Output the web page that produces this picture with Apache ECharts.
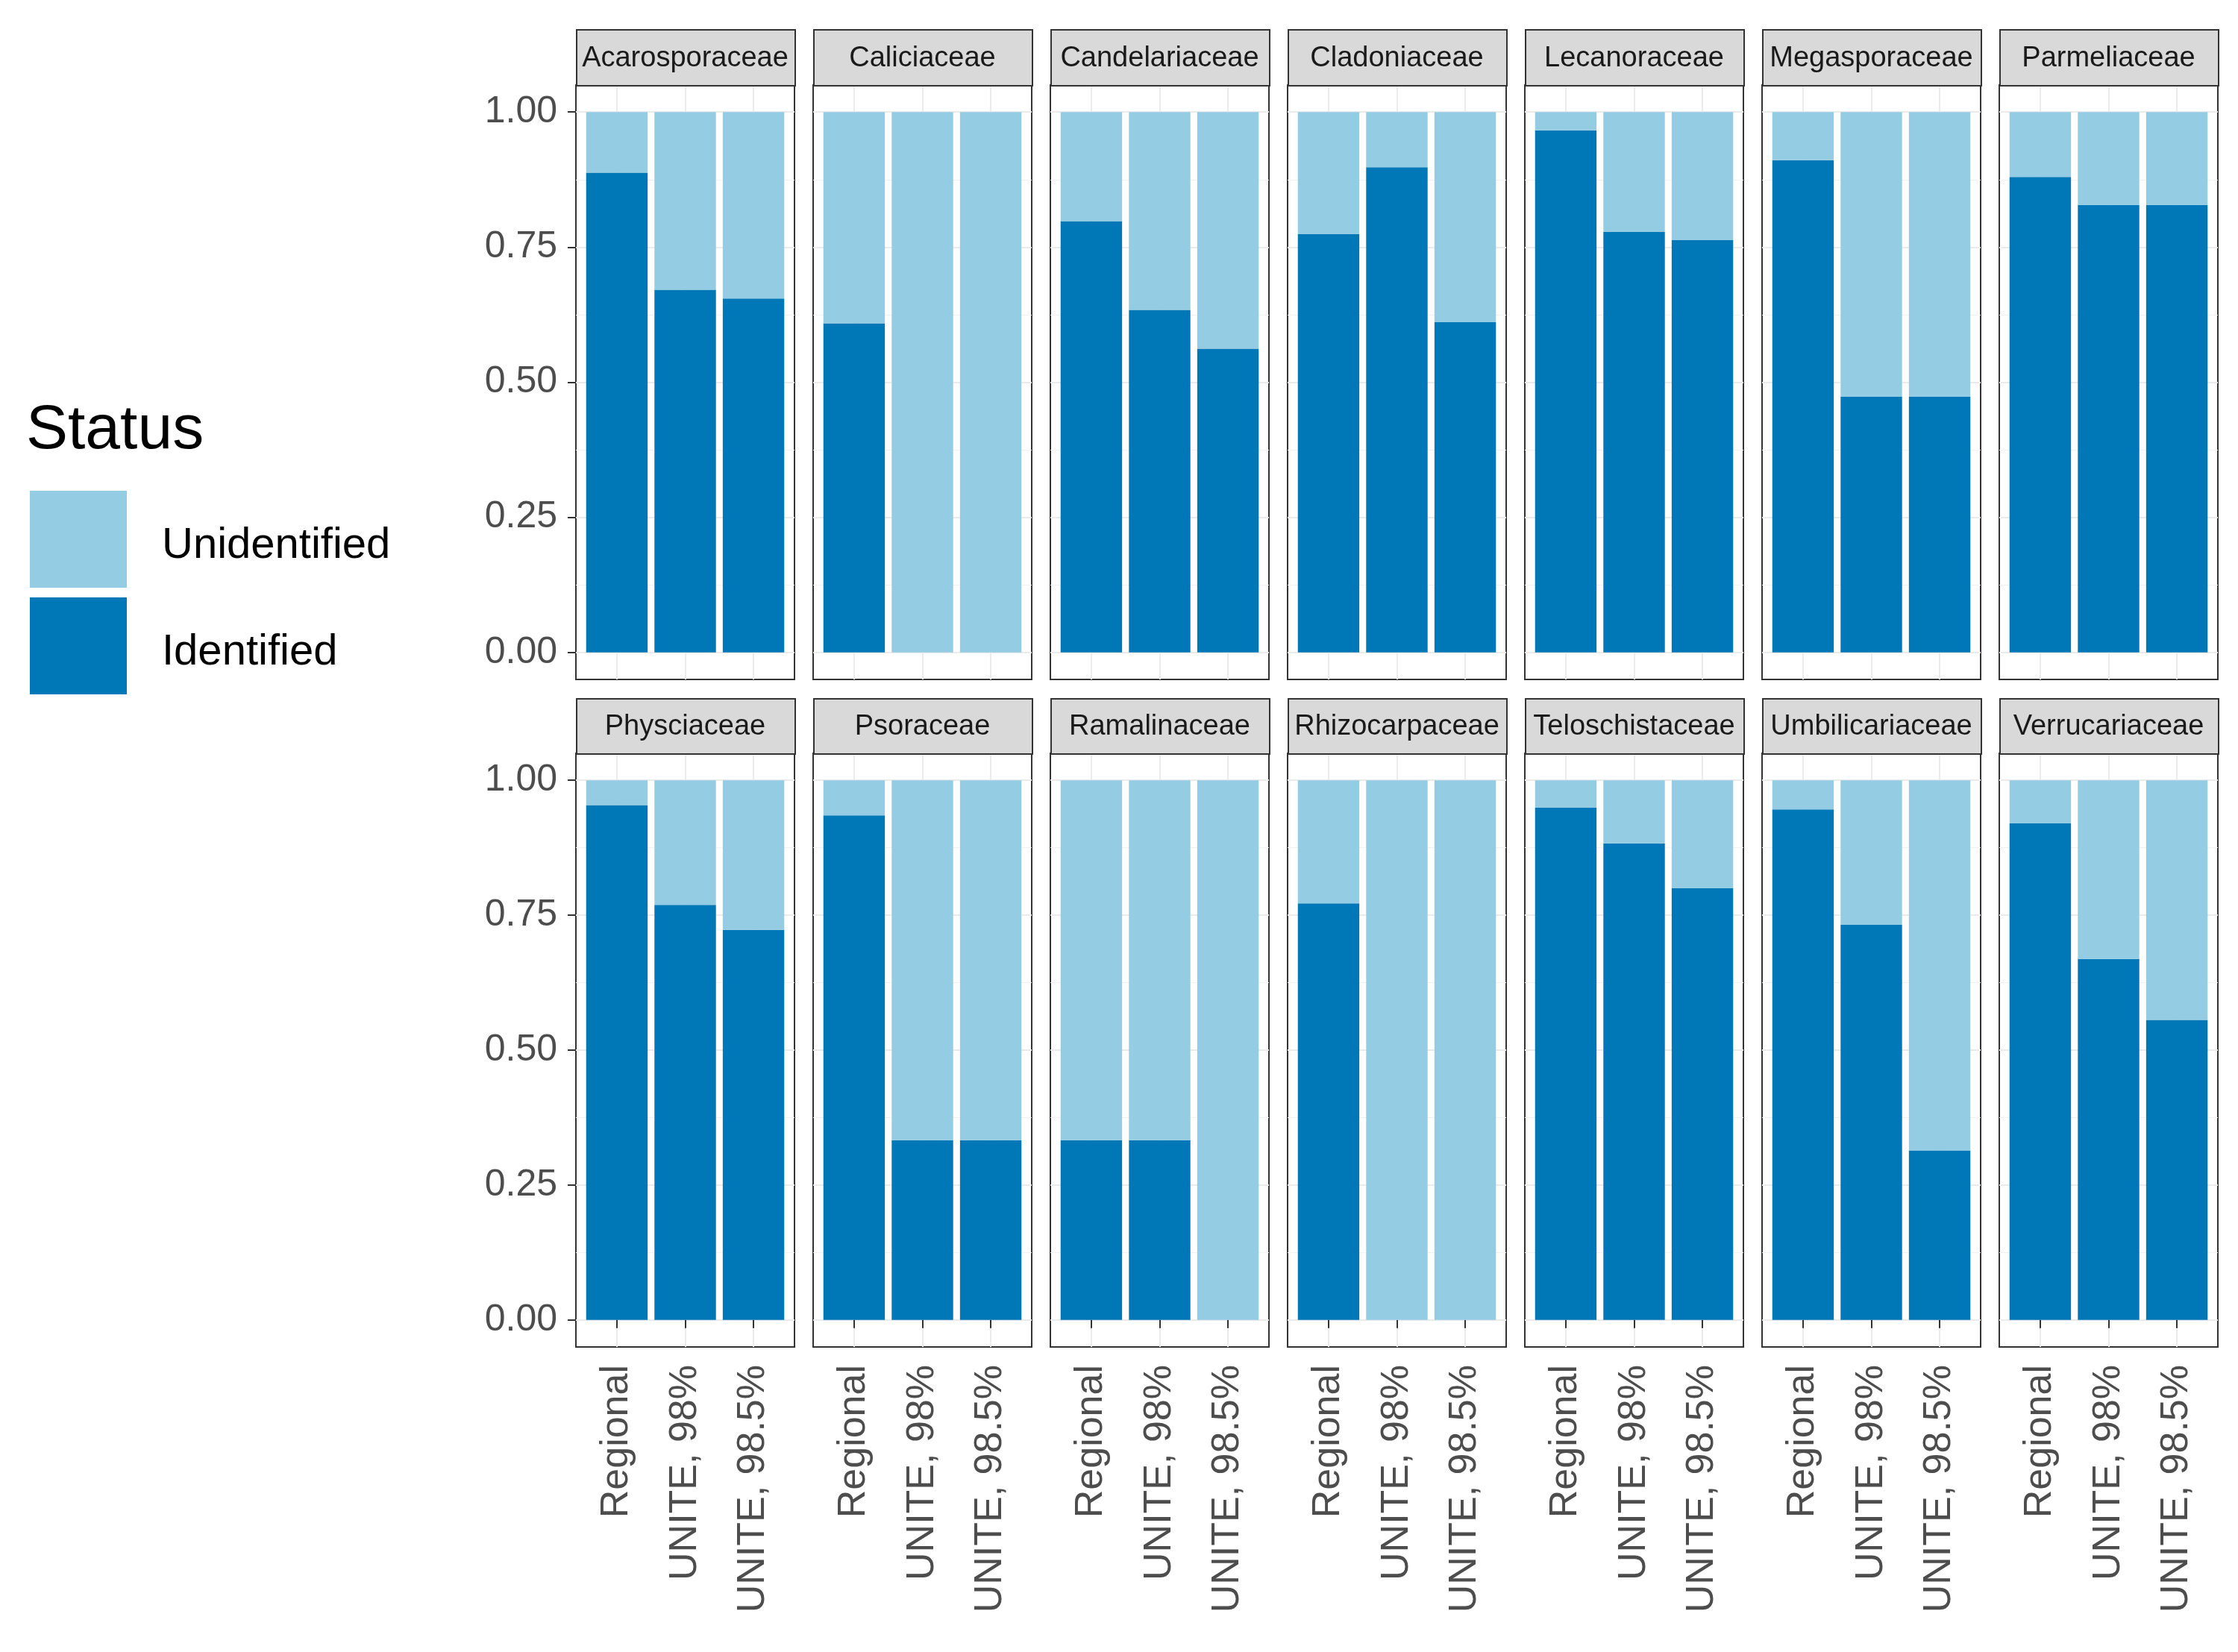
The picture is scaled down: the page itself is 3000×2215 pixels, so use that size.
<!DOCTYPE html>
<html>
<head>
<meta charset="utf-8">
<script src="https://cdn.jsdelivr.net/npm/echarts@6/dist/echarts.min.js"></script>
<style>
html,body{margin:0;padding:0;background:#fff;}
#chart{width:3000px;height:2215px;}
</style>
</head>
<body>
<div id="chart"></div>
<script>
// ---- data ----
const families = ['Acarosporaceae','Caliciaceae','Candelariaceae','Cladoniaceae','Lecanoraceae','Megasporaceae','Parmeliaceae',
                  'Physciaceae','Psoraceae','Ramalinaceae','Rhizocarpaceae','Teloschistaceae','Umbilicariaceae','Verrucariaceae'];
const methods = ['Regional', 'UNITE, 98%', 'UNITE, 98.5%'];
// proportion of identified reads per family, for each method
const idRegional = [0.888, 0.609, 0.798, 0.774, 0.966, 0.911, 0.880, 0.954, 0.935, 0.333, 0.772, 0.949, 0.946, 0.920];
const idUnite98  = [0.671, 0.000, 0.634, 0.898, 0.778, 0.473, 0.828, 0.769, 0.333, 0.333, 0.000, 0.883, 0.732, 0.669];
const idUnite985 = [0.655, 0.000, 0.562, 0.611, 0.763, 0.473, 0.828, 0.723, 0.333, 0.000, 0.000, 0.800, 0.314, 0.556];
const yTicks = [0, 0.25, 0.5, 0.75, 1];
const yMinor = [0.125, 0.375, 0.625, 0.875];
const statusNames = ['Unidentified', 'Identified'];

// ---- styling / layout ----
const COL_ID = '#0077B6';
const COL_UN = '#94CDE3';
const FONT = 'Liberation Sans, Arial, Helvetica, sans-serif';
const panelLeft0 = 772, panelW = 293, panelStep = 318;
const rows = [
  {stripTop: 39, plotTop: 114, plotBottom: 911},
  {stripTop: 936, plotTop: 1010, plotBottom: 1806}
];
const unit = panelW / 3.2;           // ggplot discrete expansion: 0.6 units each side
const inset = unit * 0.1;            // category band layout vs ggplot panel

const grids = [], xAxes = [], yAxes = [], series = [], graphics = [];
const idByMethod = [idRegional, idUnite98, idUnite985];

families.forEach((fam, i) => {
  const r = Math.floor(i / 7), c = i % 7;
  const row = rows[r];
  const left = panelLeft0 + c * panelStep;
  const h = row.plotBottom - row.plotTop;
  const showX = r === 1, showY = c === 0;

  // decoration grid (panel, gridlines, ticks, labels)
  const gDeco = grids.length;
  grids.push({left: left, top: row.plotTop, width: panelW, height: h,
    show: true, borderColor: '#333333', borderWidth: 2, backgroundColor: '#ffffff', containLabel: false});
  xAxes.push({
    gridIndex: gDeco, type: 'value', min: 0.4, max: 3.6,
    axisLine: {show: false},
    axisTick: {show: showX, customValues: [1, 2, 3], length: 11, lineStyle: {color: '#333333', width: 2}},
    axisLabel: {show: showX, customValues: [1, 2, 3], rotate: 90, margin: 24,
      formatter: v => methods[Math.round(v) - 1] || '',
      fontSize: 52, color: '#4D4D4D', fontFamily: FONT, hideOverlap: false},
    splitLine: {show: true, lineStyle: {color: '#EBEBEB', width: 2}}
  });
  yAxes.push({
    gridIndex: gDeco, type: 'value', min: -0.05, max: 1.05,
    axisLine: {show: false},
    axisTick: {show: showY, customValues: yTicks, length: 11, lineStyle: {color: '#333333', width: 2}},
    axisLabel: {show: showY, customValues: yTicks, margin: 25, formatter: v => v.toFixed(2),
      fontSize: 50, color: '#4D4D4D', fontFamily: FONT},
    splitLine: {show: true, lineStyle: {color: '#EBEBEB', width: 2}}
  });
  const gMinor = grids.length;
  grids.push({left: left, top: row.plotTop, width: panelW, height: h, show: false, containLabel: false});
  xAxes.push({gridIndex: gMinor, type: 'value', min: 0.4, max: 3.6, show: false});
  yAxes.push({
    gridIndex: gMinor, type: 'value', min: -0.05, max: 1.05,
    axisLine: {show: false},
    axisTick: {show: false, customValues: yMinor},
    axisLabel: {show: false, customValues: yMinor},
    splitLine: {show: true, lineStyle: {color: '#F1F1F1', width: 1}}
  });

  // bar grid (category axis, stacked bars)
  const gBar = grids.length;
  grids.push({left: left + inset, top: row.plotTop, width: panelW - 2 * inset, height: h, show: false, containLabel: false});
  xAxes.push({gridIndex: gBar, type: 'category', data: methods, boundaryGap: true,
    axisLine: {show: false}, axisTick: {show: false}, axisLabel: {show: false}, splitLine: {show: false}});
  yAxes.push({gridIndex: gBar, type: 'value', min: -0.05, max: 1.05,
    axisLine: {show: false}, axisTick: {show: false}, axisLabel: {show: false}, splitLine: {show: false}});
  const ax = xAxes.length - 1, ay = yAxes.length - 1;

  series.push({
    name: 'Identified', type: 'bar', xAxisIndex: ax, yAxisIndex: ay, stack: 's' + i,
    barWidth: '90%', itemStyle: {color: COL_ID}, silent: true,
    data: methods.map((m, k) => idByMethod[k][i])
  });
  series.push({
    name: 'Unidentified', type: 'bar', xAxisIndex: ax, yAxisIndex: ay, stack: 's' + i,
    barWidth: '90%', itemStyle: {color: COL_UN}, silent: true,
    data: methods.map((m, k) => +(1 - idByMethod[k][i]).toFixed(3))
  });

  // facet strip
  graphics.push({
    type: 'rect', left: left, top: row.stripTop, z: 10,
    shape: {width: panelW, height: row.plotTop - row.stripTop},
    style: {fill: '#D9D9D9', stroke: '#333333', lineWidth: 2}
  });
  graphics.push({
    type: 'text', x: left + panelW / 2, y: (row.stripTop + row.plotTop) / 2 + 2, z: 11,
    style: {text: fam, fontSize: 38, fontFamily: FONT, fill: '#1A1A1A', align: 'center', verticalAlign: 'middle'}
  });
});

graphics.push({
  type: 'text', x: 35, y: 578, z: 11,
  style: {text: 'Status', fontSize: 84, fontFamily: FONT, fill: '#000000', align: 'left', verticalAlign: 'middle'}
});

const chart = echarts.init(document.getElementById('chart'), null, {renderer: 'canvas'});
chart.setOption({
  backgroundColor: '#ffffff',
  animation: false,
  grid: grids,
  xAxis: xAxes,
  yAxis: yAxes,
  series: series,
  legend: {
    data: statusNames.map(n => ({name: n, icon: 'rect'})),
    orient: 'vertical', left: 40, top: 658, padding: 0,
    itemWidth: 130, itemHeight: 130, itemGap: 13,
    selectedMode: false,
    formatter: name => '{t|' + name + '}',
    textStyle: {
      fontSize: 58, color: '#000000', fontFamily: FONT,
      rich: {t: {fontSize: 58, color: '#000000', fontFamily: FONT, padding: [18, 0, 0, 42]}}
    }
  },
  graphic: graphics
});
</script>
</body>
</html>
